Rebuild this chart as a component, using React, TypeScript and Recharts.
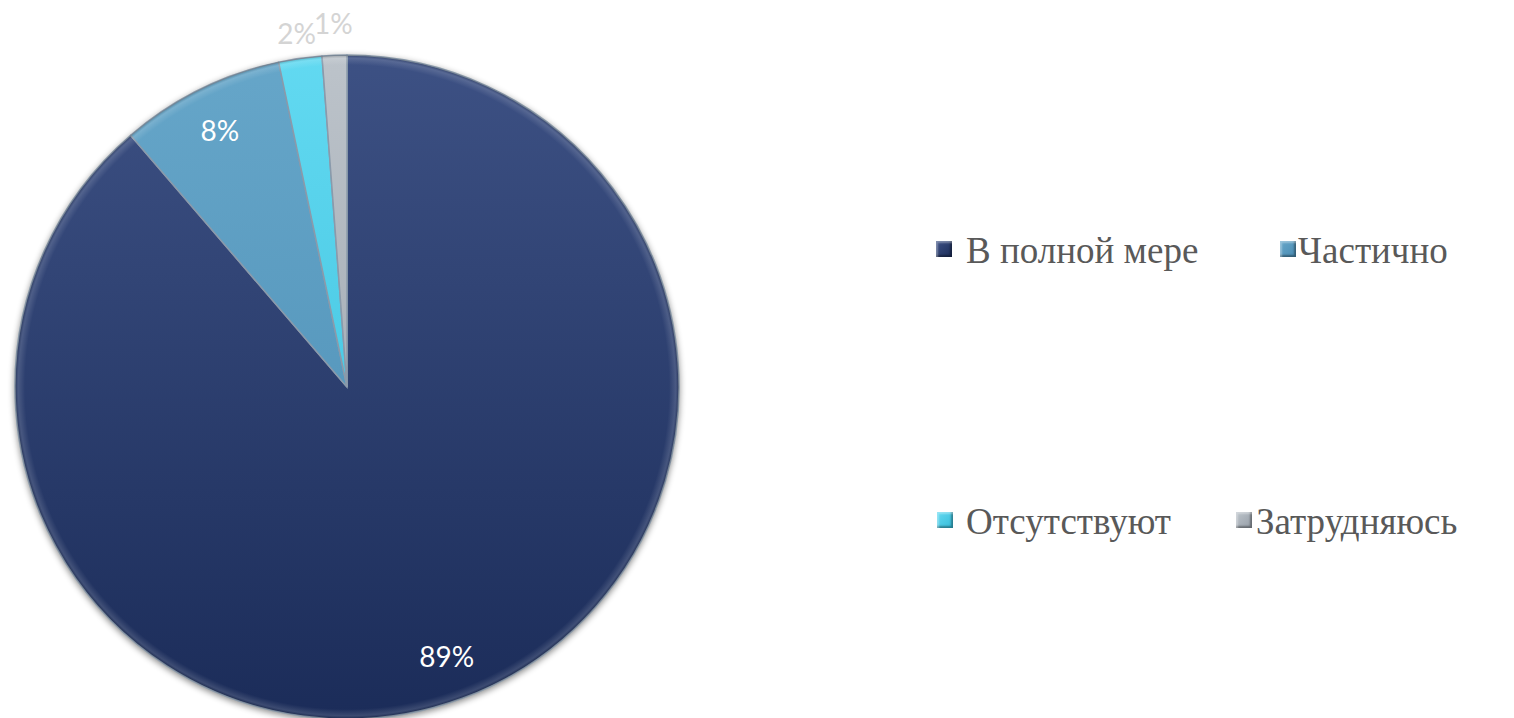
import { PieChart, Pie, Cell } from 'recharts';

// survey answers, share of respondents
const categories = ['В полной мере', 'Частично', 'Отсутствуют', 'Затрудняюсь'];
const shares = [88.7, 8.0, 2.1, 1.2];
const shareLabels = ['89%', '8%', '2%', '1%'];

const palette = [
  { top: '#3d5184', bottom: '#1b2c59' },
  { top: '#66a6c9', bottom: '#4a8cb3' },
  { top: '#62d9f1', bottom: '#36bcd9' },
  { top: '#bcc3ca', bottom: '#969ea7' },
];

// legend slot layout (marker left, text left, marker centre y)
const legendSlots = [
  { mx: 936, tx: 966, y: 249 },
  { mx: 1280, tx: 1298, y: 249 },
  { mx: 937, tx: 966, y: 520 },
  { mx: 1236, tx: 1256, y: 520 },
];

const data = categories.map((name, i) => ({ name, value: shares[i], label: shareLabels[i] }));

const RAD = Math.PI / 180;

const renderLabel = (props: any) => {
  const { cx, cy, midAngle, outerRadius, index } = props;
  const outside = shares[index] < 5;
  const r = outerRadius * (outside ? 1.12 - shares[index] * 0.02 : 0.865);
  const x = cx + r * Math.cos(-midAngle * RAD);
  const y = cy + r * Math.sin(-midAngle * RAD);
  return (
    <text
      x={x}
      y={y}
      textAnchor="middle"
      dominantBaseline="central"
      fill={outside ? '#d4d4d4' : '#ffffff'}
      fontFamily="Lato, 'Open Sans', sans-serif"
      fontSize={28}
    >
      {shareLabels[index]}
    </text>
  );
};

export default function App() {
  return (
    <div style={{ position: 'absolute', left: 0, top: 0, width: 1514, height: 718, background: '#fff', overflow: 'hidden' }}>
      <style>{`.pie-wrap .recharts-pie.main { filter: drop-shadow(0px 2px 3px rgba(0,0,0,0.45)); }`}</style>
      <div className="pie-wrap" style={{ position: 'absolute', left: 0, top: 0 }}>
        <PieChart width={760} height={718} margin={{ top: 0, right: 0, bottom: 0, left: 0 }}>
          <defs>
            {palette.map((c, i) => (
              <linearGradient key={i} id={`slice-${i}`} x1="0" y1="55" x2="0" y2="719" gradientUnits="userSpaceOnUse">
                <stop offset="0%" stopColor={c.top} />
                <stop offset="100%" stopColor={c.bottom} />
              </linearGradient>
            ))}
            <radialGradient id="rim" cx="347" cy="387" r="332" gradientUnits="userSpaceOnUse">
              <stop offset="97%" stopColor="#ffffff" stopOpacity={0} />
              <stop offset="99%" stopColor="#ffffff" stopOpacity={0.14} />
              <stop offset="100%" stopColor="#000000" stopOpacity={0.2} />
            </radialGradient>
          </defs>
          <Pie
            data={data}
            dataKey="value"
            nameKey="name"
            cx={347}
            cy={387}
            outerRadius={332}
            startAngle={90}
            endAngle={-270}
            stroke="#8a9aab"
            strokeWidth={1.5}
            label={renderLabel}
            labelLine={false}
            isAnimationActive={false}
            className="main"
          >
            {data.map((d, i) => (
              <Cell key={d.name} fill={`url(#slice-${i})`} />
            ))}
          </Pie>
          <Pie
            data={data}
            dataKey="value"
            cx={347}
            cy={387}
            innerRadius={320}
            outerRadius={332}
            startAngle={90}
            endAngle={-270}
            stroke="none"
            fill="url(#rim)"
            isAnimationActive={false}
            className="rim"
          />
        </PieChart>
      </div>
      {categories.map((name, i) => {
        const s = legendSlots[i];
        const c = palette[i];
        return (
          <div key={name}>
            <div
              style={{
                position: 'absolute',
                left: s.mx,
                top: s.y - 8,
                width: 16,
                height: 16,
                boxSizing: 'border-box',
                background: `linear-gradient(135deg, ${c.top}, ${c.bottom})`,
                boxShadow: 'inset 2px 2px 2px rgba(255,255,255,0.35), inset -2px -2px 2px rgba(0,0,0,0.35)',
              }}
            />
            <div
              style={{
                position: 'absolute',
                left: s.tx,
                top: s.y + 14 - 31,
                fontFamily: "'Liberation Serif', 'Times New Roman', serif",
                fontSize: 37,
                lineHeight: '37px',
                color: '#595959',
                whiteSpace: 'nowrap',
              }}
            >
              {name}
            </div>
          </div>
        );
      })}
    </div>
  );
}
